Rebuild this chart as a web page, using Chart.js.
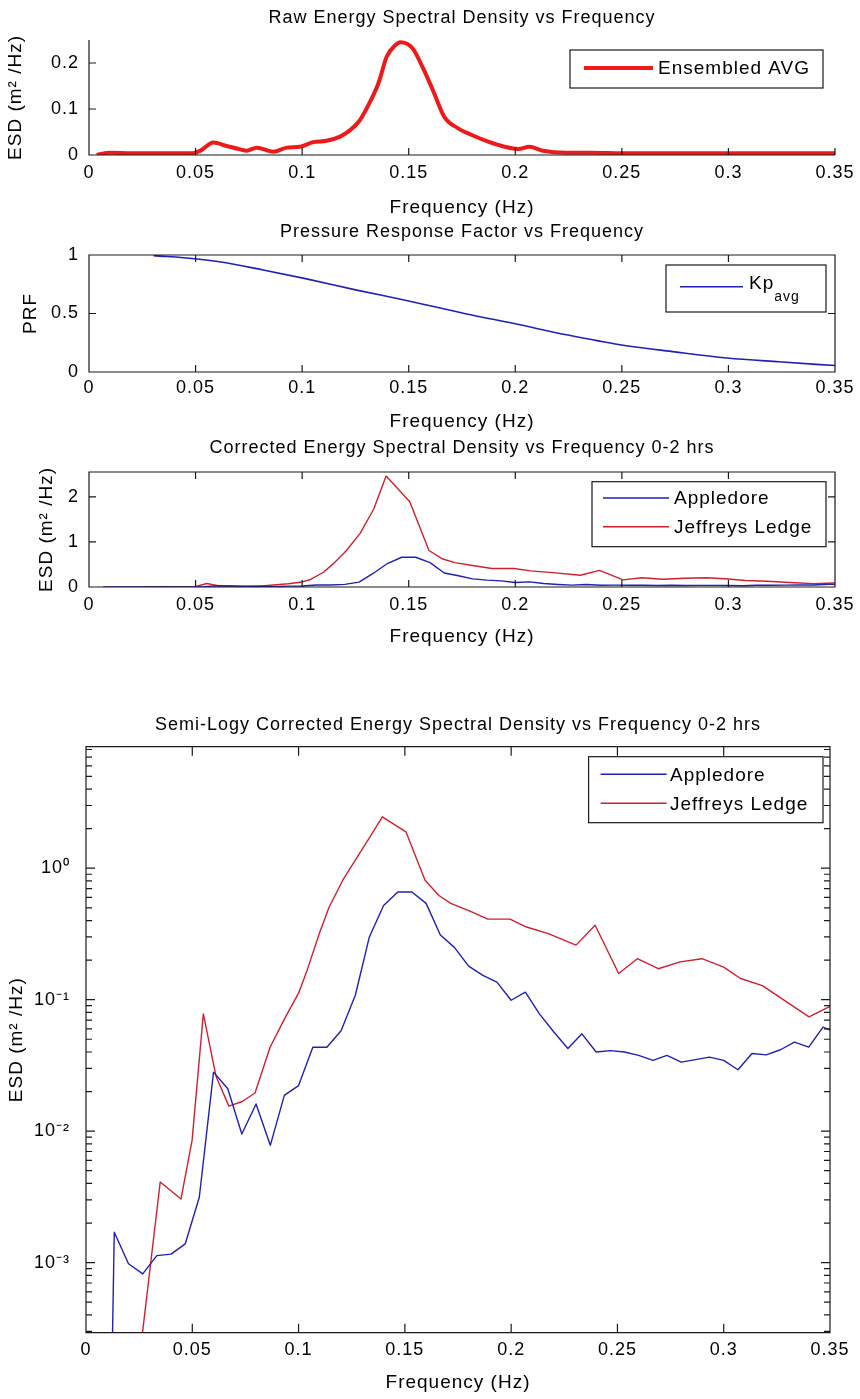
<!DOCTYPE html>
<html>
<head>
<meta charset="utf-8">
<title>Energy Spectral Density</title>
<script src="https://cdn.jsdelivr.net/npm/chart.js@4.4.1/dist/chart.umd.min.js"></script>
<style>
  body { margin: 0; background: #fff; }
  .page { position: relative; width: 860px; height: 1399px; }
  .page canvas { position: absolute; left: 0; }
</style>
</head>
<body>
<div class="page">
  <canvas id="rawChart" width="860" height="220" style="top:0"></canvas>
  <canvas id="prfChart" width="860" height="216" style="top:220px"></canvas>
  <canvas id="corrChart" width="860" height="219" style="top:436px"></canvas>
  <canvas id="logChart" width="860" height="744" style="top:655px"></canvas>
</div>
<script>
const FONT = '"Liberation Sans", Arial, Helvetica, sans-serif';
const AXIS_COLOR = "#1a1a1a";

// axis ticks
const freqTicks = [0, 0.05, 0.1, 0.15, 0.2, 0.25, 0.3, 0.35];
const rawTicks = [0, 0.1, 0.2];
const rawTickLabels = ["0", "0.1", "0.2"];
const prfTicks = [0, 0.5, 1];
const prfTickLabels = ["0", "0.5", "1"];
const corrTicks = [0, 1, 2];
const corrTickLabels = ["0", "1", "2"];
const logTicks = [0.001, 0.01, 0.1, 1];
const logTickLabels = ["10⁻³", "10⁻²", "10⁻¹", "10⁰"];

// raw ensemble-averaged ESD (m^2/Hz)
const rawFreq = [0.0036, 0.0099, 0.02, 0.03, 0.04, 0.0489, 0.0525, 0.0583, 0.0646, 0.0709,
  0.074, 0.0787, 0.0865, 0.0928, 0.099, 0.1052, 0.1115, 0.1178, 0.1225, 0.127,
  0.1307, 0.1358, 0.1397, 0.1435, 0.1461, 0.1518, 0.1564, 0.1616, 0.1667, 0.1732,
  0.1796, 0.1873, 0.195, 0.2015, 0.2066, 0.213, 0.2234, 0.2364, 0.25, 0.3, 0.35];
const rawEsd = [0, 0.005, 0.004, 0.004, 0.004, 0.004, 0.01, 0.027, 0.0196, 0.0123,
  0.0094, 0.016, 0.0073, 0.016, 0.018, 0.028, 0.031, 0.04, 0.054, 0.075,
  0.105, 0.156, 0.214, 0.238, 0.245, 0.232, 0.192, 0.138, 0.083, 0.058,
  0.0435, 0.029, 0.018, 0.013, 0.018, 0.0094, 0.005, 0.005, 0.004, 0.004, 0.004];

// pressure response factor
const prfFreq = [0.0303, 0.0496, 0.0612, 0.0817, 0.101, 0.1256, 0.15, 0.1796, 0.1989,
  0.2246, 0.2491, 0.2748, 0.2993, 0.3237, 0.35];
const prfValue = [0.995, 0.968, 0.942, 0.872, 0.8, 0.7, 0.607, 0.487, 0.416,
  0.316, 0.233, 0.172, 0.12, 0.087, 0.055];

// corrected ESD, Appledore
const appledoreFreq = [0.0067, 0.0133, 0.02, 0.0267, 0.0333, 0.04, 0.0467, 0.0533, 0.06, 0.0667,
  0.0733, 0.08, 0.0867, 0.0933, 0.1, 0.1067, 0.1133, 0.12, 0.1267, 0.1333,
  0.14, 0.1467, 0.1533, 0.16, 0.1667, 0.1733, 0.18, 0.1867, 0.1933, 0.2,
  0.2067, 0.2133, 0.22, 0.2267, 0.2333, 0.24, 0.2467, 0.2533, 0.26, 0.2667,
  0.2733, 0.28, 0.2867, 0.2933, 0.3, 0.3067, 0.3133, 0.32, 0.3267, 0.3333,
  0.34, 0.3467, 0.3533];
const appledoreEsd = [1e-9, 0.0017, 0.00098, 0.00082, 0.00113, 0.00116, 0.00139, 0.00314, 0.0281, 0.021,
  0.0095, 0.0161, 0.0078, 0.0187, 0.0222, 0.0435, 0.0435, 0.058, 0.108, 0.3,
  0.52, 0.66, 0.66, 0.54, 0.31, 0.25, 0.18, 0.153, 0.136, 0.099,
  0.114, 0.078, 0.057, 0.0425, 0.055, 0.04, 0.041, 0.04, 0.0377, 0.0345,
  0.0377, 0.0335, 0.035, 0.0366, 0.0345, 0.0293, 0.039, 0.038, 0.0416, 0.0475,
  0.0435, 0.0618, 0.056];

// corrected ESD, Jeffreys Ledge
const jeffreysFreq = [0.0262, 0.0349, 0.0447, 0.0499, 0.0552, 0.0612, 0.0672, 0.0735, 0.0795, 0.0866,
  0.0935, 0.1, 0.104, 0.11, 0.1144, 0.1208, 0.1272, 0.1336, 0.1394, 0.1505,
  0.1595, 0.166, 0.1716, 0.1814, 0.189, 0.1995, 0.2072, 0.2175, 0.2305, 0.2395,
  0.2506, 0.2594, 0.2692, 0.2795, 0.2898, 0.3, 0.3079, 0.3182, 0.331, 0.3401,
  0.3495, 0.3533];
const jeffreysEsd = [0.00026, 0.0041, 0.00305, 0.0085, 0.078, 0.026, 0.0155, 0.0168, 0.0195, 0.0435,
  0.072, 0.112, 0.167, 0.327, 0.507, 0.81, 1.19, 1.73, 2.46, 1.89,
  0.81, 0.62, 0.54, 0.465, 0.41, 0.41, 0.357, 0.318, 0.26, 0.368,
  0.158, 0.205, 0.172, 0.194, 0.205, 0.177, 0.145, 0.128, 0.093, 0.074,
  0.088, 0.092];

const BLUE = "#2020b4";
const RED = "#d0202f";

const pts = (xs, ys) => xs.map((x, i) => ({ x, y: ys[i] }));

// box, inward ticks and inset legend drawn the way the axes look in MATLAB
const axesFrame = {
  id: "axesFrame",
  beforeDraw(chart) {
    chart.ctx.letterSpacing = "1px";
  },
  afterDatasetsDraw(chart, args, opts) {
    const { ctx, chartArea } = chart;
    const { left, right, top, bottom } = chartArea;
    const { x, y } = chart.scales;

    ctx.save();
    ctx.strokeStyle = AXIS_COLOR;
    ctx.lineWidth = 1.2;
    ctx.beginPath();
    ctx.moveTo(left, top);
    ctx.lineTo(left, bottom);
    ctx.lineTo(right, bottom);
    if (opts.box) {
      ctx.lineTo(right, top);
      ctx.closePath();
    }

    const major = opts.tickLength;
    x.ticks.forEach(t => {
      const px = x.getPixelForValue(t.value);
      ctx.moveTo(px, bottom);
      ctx.lineTo(px, bottom - major);
      if (opts.box) {
        ctx.moveTo(px, top);
        ctx.lineTo(px, top + major);
      }
    });

    const yTick = (value, len) => {
      const py = y.getPixelForValue(value);
      ctx.moveTo(left, py);
      ctx.lineTo(left + len, py);
      if (opts.box) {
        ctx.moveTo(right, py);
        ctx.lineTo(right - len, py);
      }
    };
    y.ticks.forEach(t => yTick(t.value, major));

    if (y.type === "logarithmic") {
      const first = Math.floor(Math.log10(y.min));
      const last = Math.ceil(Math.log10(y.max));
      for (let e = first; e <= last; e++) {
        for (let k = 2; k < 10; k++) {
          const v = k * Math.pow(10, e);
          if (v > y.min && v < y.max) yTick(v, opts.minorLength);
        }
      }
    }
    ctx.stroke();

    const lg = opts.legend;
    if (lg) {
      const bx = right - lg.right - lg.width;
      const by = top + lg.top;
      ctx.fillStyle = "#fff";
      ctx.fillRect(bx, by, lg.width, lg.height);
      ctx.strokeRect(bx, by, lg.width, lg.height);

      ctx.letterSpacing = "1px";
      ctx.textBaseline = "middle";
      ctx.textAlign = "left";
      chart.data.datasets.forEach((ds, i) => {
        const ry = by + lg.rows[i];
        ctx.beginPath();
        ctx.strokeStyle = ds.borderColor;
        ctx.lineWidth = ds.borderWidth;
        ctx.moveTo(bx + lg.sampleX, ry);
        ctx.lineTo(bx + lg.sampleX + lg.sampleLength, ry);
        ctx.stroke();

        const tx = bx + lg.textX;
        ctx.fillStyle = "#000";
        ctx.font = `19px ${FONT}`;
        ctx.fillText(ds.label, tx, ds.labelSub ? ry - 3 : ry + 1);
        if (ds.labelSub) {
          const w = ctx.measureText(ds.label).width;
          ctx.font = `14px ${FONT}`;
          ctx.fillText(ds.labelSub, tx + w, ry + 10);
        }
      });
    }
    ctx.restore();
  },
};

function spectrumChart(id, s) {
  const tickFont = { family: FONT, size: 18 };
  const labelFont = { family: FONT, size: 19 };

  return new Chart(document.getElementById(id), {
    type: "line",
    data: { datasets: s.datasets },
    options: {
      responsive: false,
      animation: false,
      devicePixelRatio: 1,
      layout: { padding: { left: 0, right: 860 - s.plotRight, top: 0, bottom: 0 } },
      elements: { point: { radius: 0 }, line: { borderJoinStyle: "round" } },
      plugins: {
        legend: { display: false },
        tooltip: { enabled: false },
        title: {
          display: true,
          text: s.title,
          fullSize: false,
          color: "#000",
          font: { family: FONT, size: 18, weight: "normal" },
          padding: s.titlePadding,
        },
        axesFrame: {
          box: s.box,
          tickLength: s.tickLength,
          minorLength: s.minorLength,
          legend: s.legend,
        },
      },
      scales: {
        x: {
          type: "linear",
          min: 0,
          max: 0.35,
          afterBuildTicks: scale => { scale.ticks = freqTicks.map(value => ({ value })); },
          afterFit: scale => { scale.height = s.xAxisHeight; },
          grid: { display: false, drawTicks: false },
          border: { display: false },
          ticks: {
            color: "#000",
            font: tickFont,
            padding: s.xTickPadding,
            maxRotation: 0,
            autoSkip: false,
            callback: v => String(v),
          },
          title: {
            display: true,
            text: "Frequency (Hz)",
            color: "#000",
            font: labelFont,
            padding: { top: 0, bottom: s.xLabelPadding },
          },
        },
        y: {
          type: s.yType,
          min: s.yMin,
          max: s.yMax,
          afterBuildTicks: scale => { scale.ticks = s.yTicks.map(value => ({ value })); },
          afterFit: scale => { scale.width = s.plotLeft; },
          grid: { display: false, drawTicks: false },
          border: { display: false },
          ticks: {
            color: "#000",
            font: tickFont,
            padding: s.yTickPadding,
            autoSkip: false,
            callback: (v, i) => s.yTickLabels[i],
          },
          title: {
            display: true,
            text: s.yLabel,
            color: "#000",
            font: labelFont,
            padding: { top: s.yLabelPadding, bottom: 0 },
          },
        },
      },
    },
    plugins: [axesFrame],
  });
}

spectrumChart("rawChart", {
  title: "Raw Energy Spectral Density vs Frequency",
  titlePadding: { top: 7.5, bottom: 10.9 },
  yLabel: "ESD (m² /Hz)",
  yLabelPadding: 4.6,
  yType: "linear", yMin: 0, yMax: 0.25,
  yTicks: rawTicks, yTickLabels: rawTickLabels,
  plotLeft: 89, plotRight: 835, xAxisHeight: 65,
  xTickPadding: 7.2, xLabelPadding: 0.6, yTickPadding: 10,
  box: false, tickLength: 7, minorLength: 4,
  legend: { right: 12, top: 10, width: 253, height: 38, sampleX: 14, sampleLength: 69, textX: 88, rows: [18] },
  datasets: [{
    label: "Ensembled AVG",
    data: pts(rawFreq, rawEsd),
    borderColor: "#ee1a1a",
    borderWidth: 4,
    cubicInterpolationMode: "monotone",
  }],
});

spectrumChart("prfChart", {
  title: "Pressure Response Factor vs Frequency",
  titlePadding: { top: 0.9, bottom: 12.5 },
  yLabel: "PRF",
  yLabelPadding: 19.6,
  yType: "linear", yMin: 0, yMax: 1,
  yTicks: prfTicks, yTickLabels: prfTickLabels,
  plotLeft: 89, plotRight: 835, xAxisHeight: 64,
  xTickPadding: 5.5, xLabelPadding: 2.9, yTickPadding: 10,
  box: true, tickLength: 7, minorLength: 4,
  legend: { right: 9, top: 10, width: 160, height: 47, sampleX: 14, sampleLength: 63, textX: 83, rows: [21.7] },
  datasets: [{
    label: "Kp",
    labelSub: "avg",
    data: pts(prfFreq, prfValue),
    borderColor: BLUE,
    borderWidth: 1.6,
    cubicInterpolationMode: "monotone",
  }],
});

spectrumChart("corrChart", {
  title: "Corrected Energy Spectral Density vs Frequency 0-2 hrs",
  titlePadding: { top: 1.5, bottom: 12.9 },
  yLabel: "ESD (m² /Hz)",
  yLabelPadding: 35,
  yType: "linear", yMin: 0, yMax: 2.55,
  yTicks: corrTicks, yTickLabels: corrTickLabels,
  plotLeft: 89, plotRight: 835, xAxisHeight: 68,
  xTickPadding: 7.2, xLabelPadding: 6.9, yTickPadding: 10,
  box: true, tickLength: 7, minorLength: 4,
  legend: { right: 9, top: 9.7, width: 234, height: 65, sampleX: 11, sampleLength: 66, textX: 82, rows: [16.3, 45] },
  datasets: [
    { label: "Appledore", data: pts(appledoreFreq, appledoreEsd), borderColor: BLUE, borderWidth: 1.4 },
    { label: "Jeffreys Ledge", data: pts(jeffreysFreq, jeffreysEsd), borderColor: RED, borderWidth: 1.4 },
  ],
});

spectrumChart("logChart", {
  title: "Semi-Logy Corrected Energy Spectral Density vs Frequency 0-2 hrs",
  titlePadding: { top: 59.2, bottom: 10.9 },
  yLabel: "ESD (m² /Hz)",
  yLabelPadding: 5.6,
  yType: "logarithmic", yMin: 0.000293, yMax: 8.4,
  yTicks: logTicks, yTickLabels: logTickLabels,
  plotLeft: 86, plotRight: 830, xAxisHeight: 66.3,
  xTickPadding: 6.5, xLabelPadding: 4.6, yTickPadding: 16,
  box: true, tickLength: 9, minorLength: 6,
  legend: { right: 7, top: 10, width: 234.4, height: 66, sampleX: 12, sampleLength: 66, textX: 81.4, rows: [17.6, 46.6] },
  datasets: [
    { label: "Appledore", data: pts(appledoreFreq, appledoreEsd), borderColor: BLUE, borderWidth: 1.4 },
    { label: "Jeffreys Ledge", data: pts(jeffreysFreq, jeffreysEsd), borderColor: RED, borderWidth: 1.4 },
  ],
});
</script>
</body>
</html>
